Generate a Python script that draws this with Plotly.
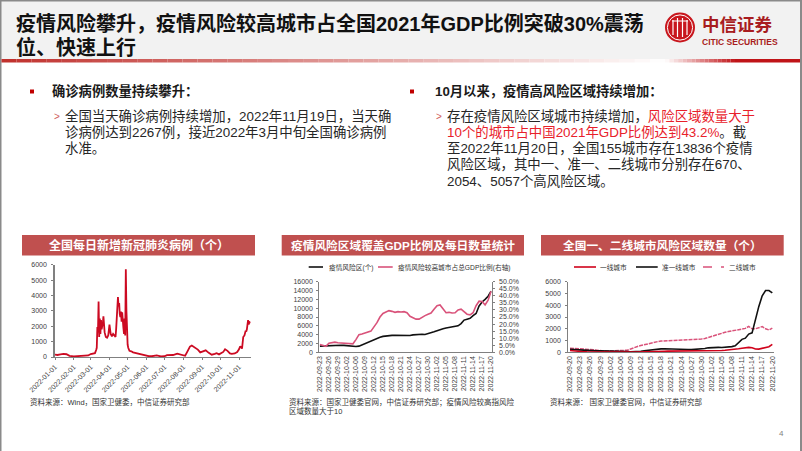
import plotly.graph_objects as go

# ---------- data ----------
case_dates = ["01-01","01-05","01-10","01-15","01-20","01-25","02-01","02-08","02-14","02-20","02-25","03-01","03-05","03-08","03-10","03-11","03-12","03-13","03-14","03-15","03-16","03-17","03-18","03-19","03-20","03-21","03-22","03-23","03-24","03-26","03-28","03-30","04-01","04-03","04-05","04-07","04-09","04-11","04-12","04-13","04-14","04-15","04-16","04-17","04-18","04-19","04-20","04-21","04-22","04-23","04-24","04-25","04-26","04-27","04-28","04-29","04-30","05-01","05-02","05-03","05-04","05-07","05-10","05-15","05-20","05-25","05-30","06-05","06-10","06-15","06-18","06-25","07-01","07-05","07-10","07-15","07-22","07-26","07-30","08-01","08-04","08-07","08-09","08-12","08-15","08-18","08-22","08-25","08-29","09-03","09-07","09-12","09-17","09-22","09-25","09-29","10-03","10-06","10-09","10-13","10-17","10-20","10-25","10-29","11-01","11-03","11-06","11-08","11-10","11-12","11-13","11-14","11-16","11-17","11-18","11-19","11-20"]
case_values = [150,130,170,200,180,80,40,50,60,110,100,190,230,250,450,600,1950,1600,3600,1300,2500,1500,2400,1800,2000,2150,2650,2000,1600,1300,1250,1400,2100,1500,1350,1500,1350,1300,1800,2500,3200,3900,3300,3500,2800,2600,2950,2300,2900,2000,1900,1500,2500,1400,5700,3000,1500,800,600,450,400,370,300,250,200,180,100,50,50,60,100,40,50,120,130,130,220,170,140,100,80,300,450,680,750,680,600,480,300,350,430,270,150,200,250,170,250,330,500,400,230,200,230,320,500,700,550,1300,1400,1700,1650,1800,2400,2100,2300,2267,2200]

risk_dates = ["09-20","09-21","09-22","09-23","09-24","09-25","09-26","09-27","09-28","09-29","09-30","10-01","10-02","10-04","10-05","10-06","10-07","10-08","10-09","10-10","10-11","10-12","10-13","10-14","10-15","10-16","10-17","10-18","10-19","10-20","10-21","10-22","10-23","10-24","10-25","10-26","10-27","10-28","10-29","10-30","10-31","11-01","11-02","11-03","11-04","11-05","11-06","11-07","11-08","11-09","11-10","11-11","11-12","11-13","11-14","11-15","11-16","11-17","11-18","11-19","11-20"]
risk_count = [1400,1450,1500,1550,1600,1620,1620,1600,1580,1500,1430,1350,1300,1400,1700,2000,2300,2600,2900,3200,3400,3600,3720,3800,3830,3850,3830,3800,3780,3750,3800,3950,4020,4000,4100,4050,4200,4400,4650,4900,5200,5350,5500,5600,5650,5750,6000,6500,7300,7500,7700,8300,8800,10500,11400,12000,12700,13836]
gdp_share = [5.5,5,4.2,6.5,7,7.2,6.8,6.6,6.8,6.5,6.2,6,9,12.5,13,13.5,14,15,18,21,25,27.5,28.5,29.5,29,28.3,28.8,28.5,28.8,28,25.5,24.5,23.5,23.5,25,26,27,27.8,30.5,33,33.5,31,28,28.3,27.8,28,30,30.5,28.5,27,26.5,28,33,36.2,36,33.5,37,43.2]

tier1 = [150,110,80,60,50,40,35,30,30,30,30,30,30,35,40,40,40,35,30,30,30,30,35,40,50,60,70,80,90,100,100,100,100,100,100,100,100,100,100,100,100,110,120,130,140,150,170,190,220,260,300,340,400,420,380,280,270,340,420,470,670]
tier1_q = [250,230,200,170,150,140,130,125,120,120,120,120,115,110,110,100,90,70,50,50,60,90,130,170,200,240,270,290,300,300,300,300,290,280,260,240,230,240,260,290,320,380,410,420,420,410,420,450,480,550,800,1100,1200,1550,1650,2900,3900,4800,5250,5250,5057]
tier2 = [350,340,320,300,280,260,240,210,170,130,110,120,130,130,120,110,110,170,280,400,490,570,650,730,800,860,910,950,960,970,990,1000,1020,1040,1060,1080,1090,1100,1120,1130,1170,1260,1370,1480,1580,1650,1700,1760,1820,1870,1900,1980,2030,2200,2000,2000,2100,2180,2000,1900,2054]

assert len(case_dates) == len(case_values)
assert len(risk_dates) == len(tier1) == len(tier1_q) == len(tier2)
assert len(risk_dates) - 3 == len(risk_count) == len(gdp_share)

month_ticks = ["01-01","02-01","03-01","04-01","05-01","06-01","07-01","08-01","09-01","10-01","11-01"]
risk_ticks = ["09-20","09-23","09-26","09-29","10-02","10-06","10-09","10-12","10-15","10-18","10-21","10-24","10-27","10-30","11-02","11-05","11-08","11-11","11-14","11-17","11-20"]

title_lines = ["疫情风险攀升，疫情风险较高城市占全国2021年GDP比例突破30%震荡", "位、快速上行"]
left_head = "确诊病例数量持续攀升："
left_lines = ["全国当天确诊病例持续增加，2022年11月19日，当天确", "诊病例达到2267例，接近2022年3月中旬全国确诊病例", "水准。"]
right_head = "10月以来，疫情高风险区域持续增加："
RED = "#e8202a"
right_lines = [f"存在疫情风险区域城市持续增加，<span style='color:{RED}'>风险区域数量大于</span>",
               f"<span style='color:{RED}'>10个的城市占中国2021年GDP比例达到43.2%</span>。截",
               "至2022年11月20日，全国155城市存在13836个疫情",
               "风险区域，其中一、准一、二线城市分别存在670、",
               "2054、5057个高风险区域。"]

# ---------- helpers ----------
W, H = 802, 451
FONT = "Liberation Sans, Noto Sans CJK SC, sans-serif"
def px(v): return v / W
def py(v): return 1 - v / H

shapes, annos = [], []
def rect(x0, y0, x1, y1, color):
    shapes.append(dict(type="rect", xref="paper", yref="paper", x0=px(x0), x1=px(x1), y0=py(y0), y1=py(y1),
                       fillcolor=color, line=dict(width=0), layer="below"))
def seg(x0, y0, x1, y1, color, width=1.5, dash="solid"):
    shapes.append(dict(type="line", xref="paper", yref="paper", x0=px(x0), x1=px(x1), y0=py(y0), y1=py(y1),
                       line=dict(color=color, width=width, dash=dash)))
def circle(cx, cy, r, fill, line=None, lw=0):
    shapes.append(dict(type="circle", xref="paper", yref="paper", x0=px(cx-r), x1=px(cx+r), y0=py(cy+r), y1=py(cy-r),
                       fillcolor=fill, line=dict(color=line or fill, width=lw)))
def text(x, y, s, size, color="#1a1a1a", bold=False, anchor="left", family=FONT):
    annos.append(dict(xref="paper", yref="paper", x=px(x), y=py(y), text=f"<b>{s}</b>" if bold else s,
                      showarrow=False, xanchor=anchor, yanchor="middle", align=anchor,
                      font=dict(size=size, color=color, family=family)))

def blend(c1, c2, t):
    return "rgb(%d,%d,%d)" % tuple(round(a + (b - a) * t) for a, b in zip(c1, c2))

# ---------- slide frame ----------
rect(0, 0, 802, 59, "#f2f2f2")
rect(0, 0, 802, 1.5, "#8a8a8a")
rect(0, 0, 1.5, 451, "#8a8a8a")
rect(800, 0, 802, 451, "#8a8a8a")
BAR = (192, 48, 44); WHITE = (255, 255, 255)
steps = 44
for i in range(steps):
    rect(1.5 + (665 - 1.5) * i / steps, 59, 1.5 + (665 - 1.5) * (i + 1) / steps, 62.5, blend(BAR, WHITE, (i + 0.5) / steps))
for i in range(16):
    rect(665 + 70 * i / 16, 59, 665 + 70 * (i + 1) / 16, 62.5, blend(WHITE, (192, 20, 24), (i + 0.5) / 16))
rect(735, 59, 800, 62.5, "rgb(192,20,24)")

text(14, 23, title_lines[0], 20, "#111111", True)
text(14, 47, title_lines[1], 20, "#111111", True)

# logo
LOGO = "#c8161d"
circle(680, 27.5, 15, LOGO)
circle(680, 27.5, 12.6, LOGO, "#ffffff", 1)
for dx in (-7, -2.5, 2.5, 7):
    half = 9.5 if abs(dx) < 5 else 7.5
    seg(680 + dx, 27.5 - half, 680 + dx, 27.5 + half, "#ffffff", 1.2)
seg(672, 21, 688, 21, "#ffffff", 1)
text(700, 25.5, "中信证券", 17.5, "#a81c20", True)
text(700, 41.5, "CITIC SECURITIES", 8.5, "#a81c20", True, family="Liberation Sans Narrow, Liberation Sans, sans-serif")

# body text
rect(30, 89.5, 34, 93.5, "#c00000")
text(50, 91, left_head, 13.3, "#1a1a1a", True)
text(52, 117, "&gt;", 10, "#d0605a")
for y, s in zip((116, 132, 149), left_lines):
    text(62.5, y, s, 13.4, "#262626")
rect(410, 89.5, 414, 93.5, "#c00000")
text(433, 91, right_head, 13.3, "#1a1a1a", True)
text(434, 117, "&gt;", 10, "#d0605a")
for y, s in zip((116, 132, 148, 164, 181), right_lines):
    text(444.5, y, s, 13.4, "#262626")

# chart bands
BAND = "#c0504f"
for x0, x1, s, fs in ((22, 255, "全国每日新增新冠肺炎病例（个）", 12),
                      (281.7, 524, "疫情风险区域覆盖GDP比例及每日数量统计", 11.7),
                      (541, 783.7, "全国一、二线城市风险区域数量（个）", 11.7)):
    rect(x0, 235, x1, 255.5, BAND)
    text((x0 + x1) / 2, 245.5, s, fs, "#ffffff", True, "center")

# legends
PINK = "#d9527a"
BLACK = "#111111"
LRED = "#d0021b"
LEG = 6.7
seg(308.7, 267, 323, 267, BLACK, 1.6)
text(326.5, 267, "疫情风险区(个)", LEG, "#333333")
seg(378, 267, 392.7, 267, PINK, 1.6)
text(396, 267, "疫情风险较高城市占总GDP比例(右轴)", LEG, "#333333")
seg(574, 267, 596, 267, LRED, 1.6)
text(598, 267, "一线城市", LEG, "#333333")
seg(636, 267, 657.7, 267, BLACK, 1.6)
text(659.5, 267, "准一线城市", LEG, "#333333")
seg(703, 267, 724, 267, PINK, 1.6, "dash")
text(727, 267, "二线城市", LEG, "#333333")

# sources
text(28, 401.5, "资料来源：Wind，国家卫健委，中信证券研究部", 7.5, "#333333")
text(287.3, 401.5, "资料来源：国家卫健委官网，中信证券研究部；疫情风险较高指风险", 7.5, "#333333")
text(287.3, 410.5, "区域数量大于10", 7.5, "#333333")
text(547.7, 401.5, "资料来源： 国家卫健委官网，中信证券研究部", 7.5, "#333333")
text(777, 433, "4", 8, "#7f7f7f")

# ---------- figure ----------
fig = go.Figure()
case_x = ["2022-" + d for d in case_dates]
fig.add_trace(go.Scatter(x=case_x, y=case_values, mode="lines", name="新增确诊", line=dict(color="#cc0a22", width=1.8), xaxis="x", yaxis="y"))
cats2 = ["2022-" + d for d in risk_dates[3:]]
fig.add_trace(go.Scatter(x=cats2, y=risk_count, mode="lines", name="疫情风险区(个)", line=dict(color=BLACK, width=1.6), xaxis="x2", yaxis="y2"))
fig.add_trace(go.Scatter(x=cats2, y=gdp_share, mode="lines", name="疫情风险较高城市占总GDP比例(右轴)", line=dict(color=PINK, width=1.6), xaxis="x2", yaxis="y4"))
cats3 = ["2022-" + d for d in risk_dates]
fig.add_trace(go.Scatter(x=cats3, y=tier2, mode="lines", name="二线城市", line=dict(color=PINK, width=1.5, dash="4px,1px"), xaxis="x3", yaxis="y3"))
fig.add_trace(go.Scatter(x=cats3, y=tier1_q, mode="lines", name="准一线城市", line=dict(color=BLACK, width=1.6), xaxis="x3", yaxis="y3"))
fig.add_trace(go.Scatter(x=cats3, y=tier1, mode="lines", name="一线城市", line=dict(color=LRED, width=1.6), xaxis="x3", yaxis="y3"))

TICKF = dict(size=7, color="#404040", family=FONT)
AX = dict(showgrid=False, zeroline=False, showline=True, linecolor="#808080", linewidth=1, tickfont=TICKF, automargin=False)
def ydom(top, bot): return [py(bot), py(top)]

fig.update_layout(
    width=W, height=H, margin=dict(l=0, r=0, t=0, b=0), autosize=False,
    paper_bgcolor="#ffffff", plot_bgcolor="rgba(0,0,0,0)", showlegend=False,
    shapes=shapes, annotations=annos, font=dict(family=FONT),
    xaxis=dict(AX, domain=[px(55), px(250.5)], type="date", range=["2022-01-01", "2022-11-20"], anchor="y",
               tickvals=["2022-" + d for d in month_ticks], tickformat="%Y-%m-%d", tickangle=-45,
               ticks="outside", ticklen=2, tickcolor="#808080"),
    yaxis=dict(AX, domain=ydom(264.7, 357), range=[0, 6000], dtick=1000, anchor="x", tickformat="d",
               ticks="outside", ticklen=2, tickcolor="#808080", linewidth=1.5, ticklabelstandoff=3),
    xaxis2=dict(AX, domain=[px(319.3), px(491.7)], type="category", categoryorder="array", categoryarray=cats2,
                range=[-0.2, 57.2], anchor="y2", tickvals=["2022-" + d for d in risk_ticks[1:]], tickangle=-90, ticks=""),
    yaxis2=dict(AX, domain=ydom(281.7, 352.3), range=[0, 16000], dtick=2000, anchor="x2", tickformat="d",
                ticks="outside", ticklen=2, tickcolor="#808080", ticklabelstandoff=2),
    yaxis4=dict(AX, domain=ydom(281.7, 352.3), range=[0, 50], dtick=5, anchor="x2", overlaying="y2", side="right",
                ticksuffix="%", tickformat=".1f", ticks="outside", ticklen=2, tickcolor="#808080", ticklabelstandoff=3),
    xaxis3=dict(AX, domain=[px(568.3), px(774)], type="category", categoryorder="array", categoryarray=cats3,
                range=[-0.5, 60.5], anchor="y3", tickvals=["2022-" + d for d in risk_ticks], tickangle=-90, ticks=""),
    yaxis3=dict(AX, domain=ydom(281.7, 352.3), range=[0, 6000], dtick=1000, anchor="x3", tickformat="d",
                ticks="outside", ticklen=2, tickcolor="#808080", ticklabelstandoff=3),
)

fig.write_html("out.html", config=dict(displayModeBar=False),
               post_script="document.body.style.margin='0';document.body.style.overflow='hidden';")
